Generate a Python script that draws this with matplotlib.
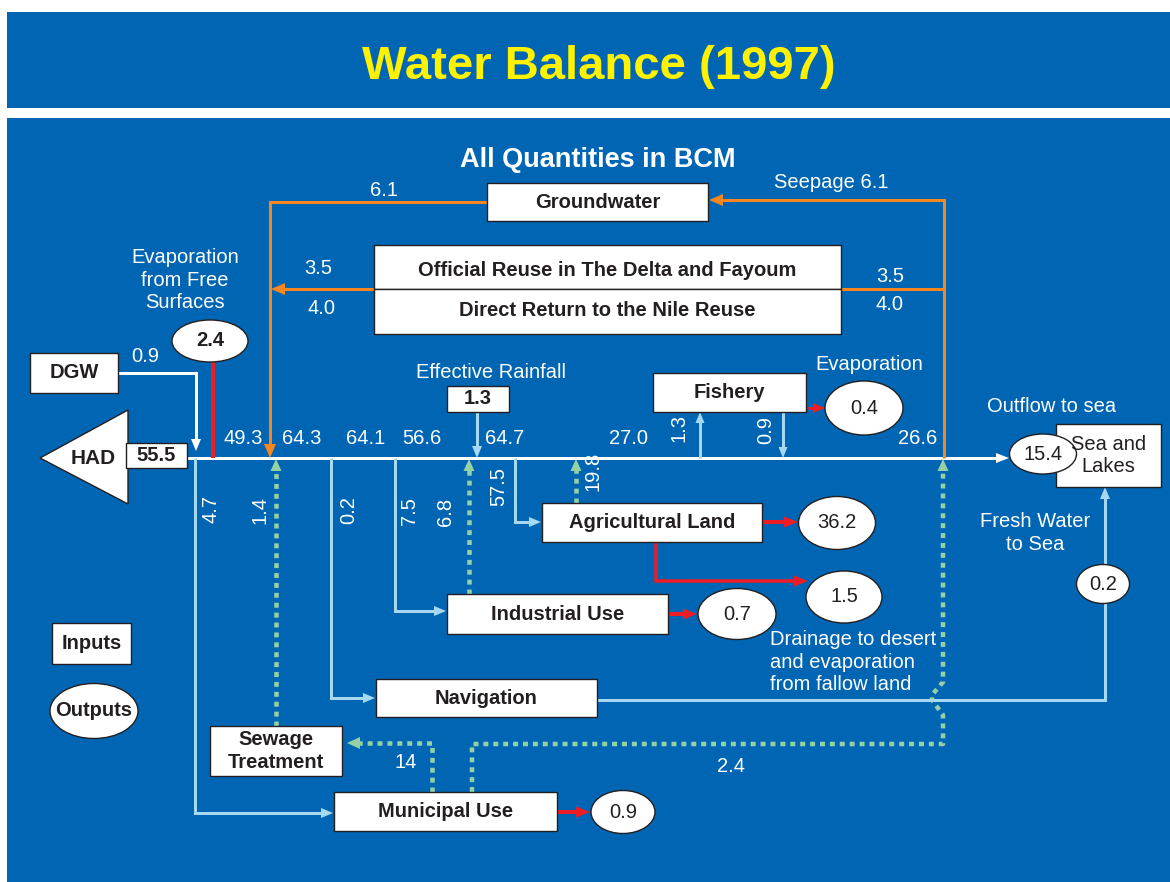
import matplotlib
matplotlib.use('Agg')
import matplotlib.pyplot as plt
from matplotlib.patches import Rectangle, Ellipse, Polygon
import numpy as np

plt.rcParams['font.family'] = ['Liberation Sans', 'DejaVu Sans']

# ---------------- data ----------------
TITLE = "Water Balance (1997)"
SUBTITLE = "All Quantities in BCM"

# inputs (boxes)
input_names = ["HAD", "DGW", "Effective Rainfall"]
input_values = ["55.5", "0.9", "1.3"]

# flows along the Nile (left to right)
river_flows = ["49.3", "64.3", "64.1", "56.6", "64.7", "27.0", "26.6"]

# withdrawals from the river
withdraw_names = ["Municipal Use", "Navigation", "Industrial Use", "Agricultural Land", "Fishery"]
withdraw_values = ["4.7", "0.2", "7.5", "57.5", "1.3"]

# returns to the river / system
return_names = ["Sewage", "Industrial", "Agricultural", "Fishery", "Municipal to Sewage", "Municipal to Nile"]
return_values = ["1.4", "6.8", "19.8", "0.9", "14", "2.4"]

# groundwater & reuse loop
seepage_value = "6.1"
groundwater_value = "6.1"
reuse_values = ["3.5", "4.0"]
reuse_names = ["Official Reuse in The Delta and Fayoum", "Direct Return to the Nile Reuse"]

# outputs (ellipses)
output_names = ["Evaporation from Free Surfaces", "Fishery Evaporation", "Agricultural Land",
                "Drainage to desert", "Industrial Use", "Municipal Use", "Fresh Water to Sea", "Outflow to sea"]
output_values = ["2.4", "0.4", "36.2", "1.5", "0.7", "0.9", "0.2", "15.4"]

# ---------------- style ----------------
BLUE = '#0066B3'
WHITE = '#FFFFFF'
LBLUE = '#A6D8F2'
GREEN = '#96D1A6'
ORANGE = '#F7861F'
RED = '#EE1C25'
DARK = '#231F20'
YELLOW = '#FFF200'
FS = 14.5
LS = 1.22

fig = plt.figure(figsize=(11.7, 8.82), dpi=100)
ax = fig.add_axes([0, 0, 1, 1])
ax.set_xlim(0, 1170)
ax.set_ylim(882, 0)
ax.axis('off')

ax.add_patch(Rectangle((7, 12), 1163, 870, facecolor=BLUE, edgecolor='none', zorder=0))
ax.add_patch(Rectangle((7, 108), 1163, 10, facecolor=WHITE, edgecolor='none', zorder=1))


def arrowhead(p0, p1, color, L=12, W=10, z=3):
    p0 = np.array(p0, float); p1 = np.array(p1, float)
    d = (p1 - p0) / np.linalg.norm(p1 - p0)
    n = np.array([-d[1], d[0]])
    base = p1 - d * L
    ax.add_patch(Polygon([p1, base + n * W / 2, base - n * W / 2], closed=True,
                         facecolor=color, edgecolor='none', zorder=z))


def line(pts, color, lw=3, dotted=False, head=True, L=12, W=10, z=2):
    pts = [np.array(p, float) for p in pts]
    draw = list(pts)
    if head:
        d = (pts[-1] - pts[-2]) / np.linalg.norm(pts[-1] - pts[-2])
        draw[-1] = pts[-1] - d * L * 0.7
    xs = [p[0] for p in draw]; ys = [p[1] for p in draw]
    if dotted:
        ax.plot(xs, ys, color=color, lw=lw * 0.72, linestyle=(0, (1.1, 1.1)),
                dash_capstyle='butt', solid_joinstyle='miter', zorder=z)
    else:
        ax.plot(xs, ys, color=color, lw=lw * 0.72, solid_capstyle='butt',
                solid_joinstyle='miter', zorder=z)
    if head:
        arrowhead(pts[-2], pts[-1], color, L, W, z + 0.5)


def box(x0, y0, x1, y1, text='', bold=True, fs=FS, z=4, ty=None):
    ax.add_patch(Rectangle((x0, y0), x1 - x0, y1 - y0, facecolor=WHITE,
                           edgecolor=DARK, lw=1.0, zorder=z))
    if text:
        ax.text((x0 + x1) / 2, (y0 + y1) / 2 if ty is None else ty, text, ha='center', va='center',
                fontsize=fs, color=DARK, fontweight='bold' if bold else 'normal',
                zorder=z + 1, linespacing=LS)


def ell(cx, cy, w, h, text, bold=False, fs=FS, z=4):
    ax.add_patch(Ellipse((cx, cy), w, h, facecolor=WHITE, edgecolor=DARK, lw=1.0, zorder=z))
    ax.text(cx, cy, text, ha='center', va='center', fontsize=fs, color=DARK,
            fontweight='bold' if bold else 'normal', zorder=z + 1)


def label(x, y, text, rot=0, ha='center', fs=FS, color=WHITE, bold=False, ls=LS):
    ax.text(x, y, text, ha=ha, va='center', fontsize=fs, color=color, rotation=rot,
            fontweight='bold' if bold else 'normal', zorder=6, linespacing=ls)


# ---------------- titles ----------------
ax.text(599, 67, TITLE, ha='center', va='center', fontsize=34, color=YELLOW,
        fontweight='bold', zorder=6)
ax.text(598, 160, SUBTITLE, ha='center', va='center', fontsize=19.5, color=WHITE,
        fontweight='bold', zorder=6)

RY = 458  # river level

# ---------------- main river ----------------
line([(187, RY), (1009, RY)], WHITE, lw=3, L=13, W=10)

# HAD
ax.add_patch(Polygon([(40, RY), (128, 410), (128, 504)], closed=True, facecolor=WHITE,
                     edgecolor=DARK, lw=1.0, zorder=4))
ax.text(93, RY, input_names[0], ha='center', va='center', fontsize=15, fontweight='bold',
        color=DARK, zorder=5)
box(126, 443, 187, 468, input_values[0])

# DGW
box(30, 353, 118, 393, input_names[1])
line([(118, 373), (196, 373), (196, 451)], WHITE, lw=3, L=12, W=10)
label(145, 357, input_values[1])

# evaporation from free surfaces
line([(213, RY), (213, 331)], RED, lw=4, L=14, W=11)
ell(210, 341, 76, 42, output_values[0], bold=True)
label(185, 280, "Evaporation\nfrom Free\nSurfaces")

# Groundwater loop (orange)
box(487, 183, 708, 221, "Groundwater", ty=203)
line([(944, RY), (944, 200), (709, 200)], ORANGE, lw=3, L=14, W=12)
label(831, 182, "Seepage " + seepage_value)
line([(487, 202), (270, 202), (270, RY)], ORANGE, lw=3, L=14, W=12)
label(384, 190, groundwater_value)

# Reuse boxes
box(374, 245, 841, 289, reuse_names[0], ty=270)
box(374, 289, 841, 334, reuse_names[1], ty=311)
line([(841, 289), (944, 289)], ORANGE, lw=3, head=False)
line([(374, 289), (271, 289)], ORANGE, lw=3, L=14, W=12)
label(318, 268, reuse_values[0])
label(321, 309, reuse_values[1])
label(890, 276, reuse_values[0])
label(890, 304, reuse_values[1])

# river flow labels
for x, t in zip([243, 302, 366, 422, 505, 629, 918], river_flows):
    label(x, 439, t)

# ---------------- withdrawals ----------------
# Municipal
box(334, 792, 557, 831, withdraw_names[0])
line([(195, RY), (195, 813), (333, 813)], LBLUE, lw=3, L=12, W=10)
label(211, 509, withdraw_values[0], rot=90)
# Navigation
box(376, 679, 597, 717, withdraw_names[1])
line([(331, RY), (331, 698), (375, 698)], LBLUE, lw=3, L=12, W=10)
label(349, 510, withdraw_values[1], rot=90)
# Industrial
box(447, 594, 668, 634, withdraw_names[2])
line([(395, RY), (395, 611), (446, 611)], LBLUE, lw=3, L=12, W=10)
label(409, 511, withdraw_values[2], rot=90)
# Agricultural
box(542, 503, 762, 542, withdraw_names[3])
line([(515, RY), (515, 522), (541, 522)], LBLUE, lw=3, L=12, W=10)
label(499, 487, withdraw_values[3], rot=90)
# Fishery
box(653, 373, 806, 412, withdraw_names[4])
line([(700, RY), (700, 412)], LBLUE, lw=3, L=11, W=9)
label(679, 428, withdraw_values[4], rot=90)
line([(783, 412), (783, RY)], LBLUE, lw=3, L=11, W=9)
label(766, 430, return_values[3], rot=90)
line([(808, 408), (825, 408)], RED, lw=3, L=12, W=10)
ell(864, 408, 78, 54, output_values[1])
label(869, 365, "Evaporation")

# Effective rainfall
label(491, 373, input_names[2])
box(447, 386, 509, 412, input_values[2])
line([(477, 412), (477, RY)], LBLUE, lw=3, L=12, W=10)

# ---------------- returns (green dotted) ----------------
box(210, 726, 342, 776, "Sewage\nTreatment")
line([(276, 726), (276, RY + 1)], GREEN, lw=4.5, dotted=True, L=12, W=11)
label(260, 510, return_values[0], rot=90)
line([(469, 594), (469, RY + 1)], GREEN, lw=4.5, dotted=True, L=12, W=11)
label(446, 512, return_values[1], rot=90)
line([(576, 503), (576, RY + 1)], GREEN, lw=4.5, dotted=True, L=12, W=11)
label(593, 471, return_values[2], rot=90)
line([(432, 792), (432, 743), (347, 743)], GREEN, lw=4.5, dotted=True, L=13, W=12)
label(406, 763, return_values[4])
line([(472, 792), (472, 744), (943, 744), (943, 715), (932, 700), (932, 695), (943, 682),
      (943, RY + 1)], GREEN, lw=4.5, dotted=True, L=12, W=11)
label(731, 767, return_values[5])

# ---------------- outputs ----------------
line([(762, 522), (798, 522)], RED, lw=4, L=14, W=11)
ell(837, 523, 77, 53, output_values[2])
line([(656, 542), (656, 581), (808, 581)], RED, lw=3.5, L=14, W=11)
ell(844, 597, 76, 52, output_values[3])
label(770, 662, "Drainage to desert\nand evaporation\nfrom fallow land", ha='left')
line([(668, 614), (697, 614)], RED, lw=4, L=14, W=11)
ell(737, 614, 78, 51, output_values[4])
line([(557, 812), (590, 812)], RED, lw=4, L=14, W=11)
ell(623, 812, 64, 43, output_values[5])

# Navigation -> fresh water to sea
line([(597, 700), (1105, 700), (1105, 487)], LBLUE, lw=3, L=12, W=10)
ell(1103, 584, 53, 39, output_values[6])
label(1035, 533, "Fresh Water\nto Sea")

# Sea and lakes
box(1056, 424, 1161, 487, "Sea and\nLakes", bold=False)
ell(1043, 454, 67, 40, output_values[7])
label(1052, 406, "Outflow to sea")

# ---------------- legend ----------------
box(52, 623, 131, 664, "Inputs")
ell(94, 711, 88, 55, "Outputs", bold=True)

fig.savefig('out.png', dpi=100, facecolor='white')
